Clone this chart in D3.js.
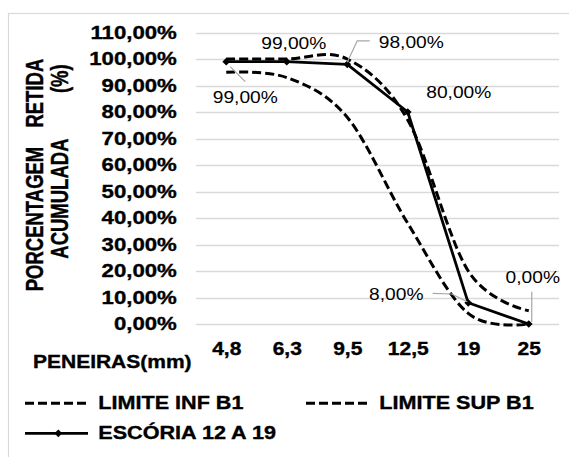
<!DOCTYPE html>
<html>
<head>
<meta charset="utf-8">
<script src="https://cdn.jsdelivr.net/npm/d3@7"></script>
<style>
  html, body { margin: 0; padding: 0; background: #fff; }
  svg { display: block; }
  text { font-family: "Liberation Sans", Arial, sans-serif; fill: #000; }
  text.heavy { stroke: #000; stroke-width: 0.35px; }
</style>
</head>
<body>
<svg id="chart" width="569" height="457"></svg>
<script>
// Sieve sizes (mm) and cumulative retained fractions
const categories = ["4,8", "6,3", "9,5", "12,5", "19", "25"];
const limiteInf  = [0.95, 0.93, 0.78, 0.38, 0.04, 0.00];
const limiteSup  = [1.00, 1.00, 1.00, 0.77, 0.20, 0.05];
const escoria    = [0.99, 0.99, 0.98, 0.80, 0.08, 0.00];
const yMax = 1.1;

const seriesNames = ["LIMITE INF B1", "LIMITE SUP B1", "ESCÓRIA 12 A 19"];
const xTitle = "PENEIRAS(mm)";
const yTitleLines = ["PORCENTAGEM RETIDA", "ACUMULADA (%)"];

// Horizontal stretch applied to all text
const SX = 1.2;

const svg = d3.select("#chart");
const plot = { left: 196, right: 559, top: 32.5, bottom: 324 };

const fmt = d3.formatLocale({ decimal: ",", thousands: ".", grouping: [3], currency: ["", ""] }).format(".2%");

const x = d3.scalePoint().domain(categories).range([plot.left, plot.right]).padding(0.5);
const y = d3.scaleLinear().domain([0, yMax]).range([plot.bottom, plot.top]);

// Outer chart frame
svg.append("rect").attr("x", 8.5).attr("y", 13.5).attr("width", 570).attr("height", 460)
  .attr("fill", "#fff").attr("stroke", "#d9d9d9").attr("stroke-width", 1.2);

// Horizontal gridlines
const ticks = y.ticks(11);
svg.append("g").selectAll("line").data(ticks).join("line")
  .attr("x1", plot.left).attr("x2", plot.right)
  .attr("y1", d => Math.round(y(d)) + 0.5).attr("y2", d => Math.round(y(d)) + 0.5)
  .attr("stroke", "#d9d9d9").attr("stroke-width", 1.3);

// Y axis labels
const yAxis = svg.append("g").attr("transform", `translate(${plot.left},0)`)
  .call(d3.axisLeft(y).tickValues(ticks).tickFormat(fmt).tickSize(0).tickPadding(16));
yAxis.select(".domain").remove();
yAxis.selectAll("text")
  .attr("class", "heavy")
  .attr("transform", `scale(${SX},1)`)
  .attr("font-size", 18.5).attr("font-weight", "bold")
  .attr("font-family", "Liberation Sans, Arial, sans-serif").attr("fill", "#000");

// X axis labels
const xAxis = svg.append("g").attr("transform", `translate(0,${plot.bottom})`)
  .call(d3.axisBottom(x).tickSize(0).tickPadding(19));
xAxis.select(".domain").remove();
xAxis.selectAll("text")
  .attr("class", "heavy")
  .attr("transform", `scale(${SX},1)`)
  .attr("font-size", 17.5).attr("font-weight", "bold")
  .attr("font-family", "Liberation Sans, Arial, sans-serif").attr("fill", "#000");

// Axis titles
svg.append("text").attr("class", "heavy")
  .attr("transform", `translate(33,367.5) scale(${SX},1)`)
  .attr("font-size", 17.5).attr("font-weight", "bold")
  .text(xTitle);

const titleSpec = [
  { cx: 35, cy: 175, ws: 14 },
  { cx: 60.5, cy: 161.5, ws: 41 }
];
yTitleLines.forEach((t, i) => {
  svg.append("text").attr("class", "heavy")
    .attr("transform", `translate(${titleSpec[i].cx},${titleSpec[i].cy}) scale(${SX * 1.08},1) rotate(-90)`)
    .attr("text-anchor", "middle").attr("dominant-baseline", "central")
    .attr("font-size", 18.5).attr("font-weight", "bold")
    .style("word-spacing", titleSpec[i].ws + "px")
    .text(t);
});

// Series lines
const smooth = d3.line().x((d, i) => x(categories[i])).y(d => y(d)).curve(d3.curveCatmullRom.alpha(0));
const straight = d3.line().x((d, i) => x(categories[i])).y(d => y(d));

const dash = "9,4";
svg.append("path").attr("d", smooth(limiteInf)).attr("fill", "none")
  .attr("stroke", "#000").attr("stroke-width", 3).attr("stroke-dasharray", dash);
svg.append("path").attr("d", smooth(limiteSup)).attr("fill", "none")
  .attr("stroke", "#000").attr("stroke-width", 3).attr("stroke-dasharray", dash);
svg.append("path").attr("d", straight(escoria)).attr("fill", "none")
  .attr("stroke", "#000").attr("stroke-width", 2.8).attr("stroke-linejoin", "round");

const diamond = d3.symbol().type(d3.symbolSquare).size(30);
svg.append("g").selectAll("path").data(escoria).join("path")
  .attr("d", diamond)
  .attr("transform", (d, i) => `translate(${x(categories[i])},${y(d)}) rotate(45)`)
  .attr("fill", "#000");

// Data labels: offset of text centre/baseline from the point, and optional leader line
const labelLayout = [
  { dx: 19,  dy: 41.7,  leader: [[4, 5], [19, 20]] },
  { dx: 7,   dy: -12.3, leader: null },
  { dx: 64,  dy: -16,   leader: [[0, -2], [10, -23.5], [22.5, -23.5]] },
  { dx: 51,  dy: -13.7, leader: null },
  { dx: -72, dy: -2.8,  leader: [[-35.5, -9.5], [-16.5, -8.8], [-1, -1]] },
  { dx: 4,   dy: -40.7, leader: [[3, -32.3], [3, -2]] }
];
const labels = svg.append("g");
escoria.forEach((v, i) => {
  const px = x(categories[i]), py = y(v), L = labelLayout[i];
  if (L.leader) {
    labels.append("polyline")
      .attr("points", L.leader.map(p => `${px + p[0]},${py + p[1]}`).join(" "))
      .attr("fill", "none").attr("stroke", "#a6a6a6").attr("stroke-width", 1.2);
  }
  labels.append("text")
    .attr("transform", `translate(${px + L.dx},${py + L.dy}) scale(${SX},1)`)
    .attr("text-anchor", "middle").attr("font-size", 16).attr("fill", "#222")
    .text(fmt(v));
});

// Legend
const legend = svg.append("g");
const legendItems = [
  { x: 25,  y: 403.3, name: seriesNames[0], dashed: true },
  { x: 306, y: 403.3, name: seriesNames[1], dashed: true },
  { x: 25,  y: 433.3, name: seriesNames[2], dashed: false }
];
legendItems.forEach(it => {
  legend.append("line").attr("x1", it.x).attr("x2", it.x + 63).attr("y1", it.y).attr("y2", it.y)
    .attr("stroke", "#000").attr("stroke-width", it.dashed ? 3 : 2.8)
    .attr("stroke-dasharray", it.dashed ? dash : null);
  if (!it.dashed) {
    legend.append("path").attr("d", diamond)
      .attr("transform", `translate(${it.x + 33.3},${it.y}) rotate(45)`).attr("fill", "#000");
  }
  legend.append("text").attr("class", "heavy")
    .attr("transform", `translate(${it.x + 73.3},${it.y + 5.7}) scale(${SX},1)`)
    .attr("font-size", 18).attr("font-weight", "bold")
    .text(it.name);
});
</script>
</body>
</html>
